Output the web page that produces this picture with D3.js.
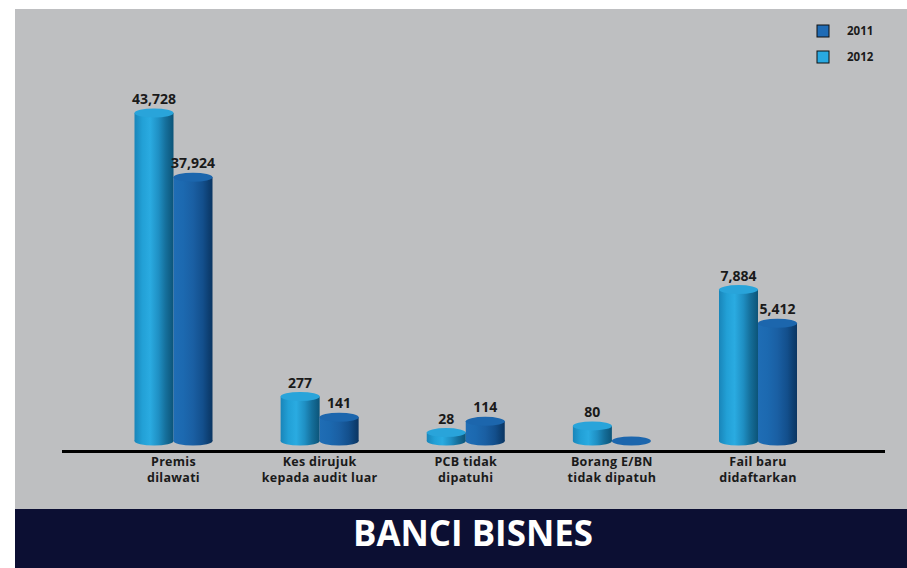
<!DOCTYPE html>
<html><head><meta charset="utf-8">
<script src="https://cdn.jsdelivr.net/npm/d3@7"></script>
<style>html,body{margin:0;padding:0;background:#fff;}svg{display:block;}</style>
</head><body>
<svg id="chart" width="907" height="568"></svg>
<script>
// ---- data ----
const categories = ["Premis dilawati", "Kes dirujuk kepada audit luar", "PCB tidak dipatuhi", "Borang E/BN tidak dipatuh", "Fail baru didaftarkan"];
const categoryLines = [["Premis","dilawati"],["Kes dirujuk","kepada audit luar"],["PCB tidak","dipatuhi"],["Borang E/BN","tidak dipatuh"],["Fail baru","didaftarkan"]];
const series = ["2012", "2011"];
const values2012 = [43728, 277, 28, 80, 7884];
const values2011 = [37924, 141, 114, 0, 5412];
const legendLabels = ["2011", "2012"];
const title = "BANCI BISNES";

const svg = d3.select("#chart");
const W = 907, H = 568;
const defs = svg.append("defs");

// background panel
svg.append("rect").attr("x",15).attr("y",9).attr("width",W-15).attr("height",500).attr("fill","#bebfc1");
svg.append("rect").attr("x",15).attr("y",509).attr("width",W-15).attr("height",H-509).attr("fill","#0c0f33");

// scales
const x = d3.scalePoint().domain(categories).range([173.5, 758]);
const sub = d3.scaleBand().domain(series).range([-39, 39]).padding(0);
// non-linear (hand-drawn style) value axis, as in the original
const y = d3.scaleLinear()
  .domain([0, 30, 100, 300, 8000, 38000, 44000])
  .range([441, 432, 423.5, 393, 288, 177, 110]);

const colors = {
  "2012": {stops:[[0,"#1985b9"],[0.2,"#22a0d6"],[0.4,"#2aabe1"],[0.62,"#1f8fc3"],[0.8,"#156f9b"],[1,"#0c5478"]], top:"#29a4da", legend:"#29a9e1"},
  "2011": {stops:[[0,"#1f6db5"],[0.25,"#1c69b0"],[0.5,"#1a5fa3"],[0.75,"#134f8c"],[0.9,"#0d3f72"],[1,"#0b3562"]], top:"#1c66ad", legend:"#1f6bb5"}
};
series.forEach(s => {
  const g = defs.append("linearGradient").attr("id","g"+s).attr("x1","0%").attr("x2","100%").attr("y1","0%").attr("y2","0%");
  colors[s].stops.forEach(st => g.append("stop").attr("offset", st[0]).attr("stop-color", st[1]));
});

const rx = 19.5, ry = 4.5;
const fmt = d3.format(",");

const rows = [];
categories.forEach((c, i) => {
  rows.push({cat:c, s:"2012", v:values2012[i]});
  rows.push({cat:c, s:"2011", v:values2011[i]});
});

const bars = svg.append("g");
rows.forEach(d => {
  const x0 = x(d.cat) + sub(d.s);
  const cx = x0 + sub.bandwidth()/2;
  const yt = y(d.v), yb = y(0);
  const g = bars.append("g");
  if (yb - yt > 0.5) {
    g.append("rect").attr("x", x0).attr("y", yt).attr("width", sub.bandwidth()).attr("height", yb - yt).attr("fill", "url(#g"+d.s+")");
    g.append("ellipse").attr("cx", cx).attr("cy", yb).attr("rx", rx).attr("ry", ry).attr("fill", "url(#g"+d.s+")");
  }
  g.append("ellipse").attr("cx", cx).attr("cy", yt).attr("rx", rx).attr("ry", ry).attr("fill", colors[d.s].top);
  if (d.v > 0) {
    svg.append("text").attr("x", cx).attr("y", yt - 9).attr("text-anchor","middle")
      .attr("font-family","'Open Sans', sans-serif").attr("font-weight",700).attr("font-size",14)
      .attr("fill","#1a1a1a").text(fmt(d.v));
  }
});

// baseline
svg.append("line").attr("x1",62).attr("x2",885).attr("y1",451.5).attr("y2",451.5).attr("stroke","#000").attr("stroke-width",3);

// category labels
categories.forEach((c, i) => {
  const t = svg.append("text").attr("text-anchor","middle")
    .attr("font-family","'Open Sans', sans-serif").attr("font-weight",700).attr("font-size",12.5)
    .attr("letter-spacing",0.3).attr("fill","#1a1a1a");
  categoryLines[i].forEach((ln, j) => {
    t.append("tspan").attr("x", x(c)).attr("y", 466 + j*16).text(ln);
  });
});

// legend
const leg = svg.append("g");
legendLabels.forEach((s, i) => {
  leg.append("rect").attr("x",817).attr("y",25 + i*26).attr("width",12).attr("height",12)
    .attr("fill", colors[s].legend).attr("stroke","#111").attr("stroke-width",1);
  leg.append("text").attr("x",847).attr("y",35 + i*26)
    .attr("font-family","'Open Sans', sans-serif").attr("font-weight",700).attr("font-size",11.5).attr("fill","#1a1a1a").text(s);
});

// title
const tt = svg.append("text").attr("x",473).attr("y",546).attr("text-anchor","middle")
  .attr("font-family","'Open Sans', sans-serif").attr("font-weight",700).attr("font-size",26)
  .attr("fill","#fff").text(title);
const tw = tt.node().getComputedTextLength();
tt.attr("font-size", 26 * 240 / tw);
</script>
</body></html>
